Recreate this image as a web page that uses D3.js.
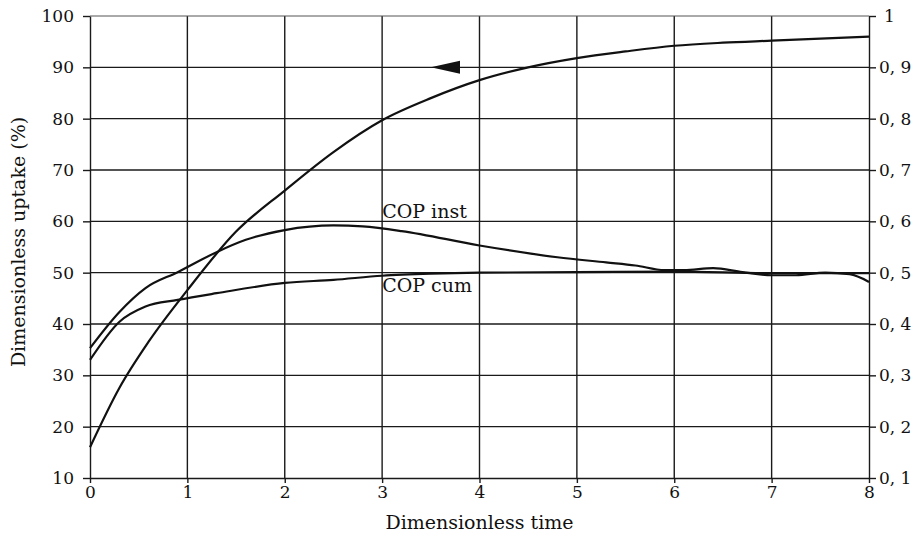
<!DOCTYPE html>
<html>
<head>
<meta charset="utf-8">
<script src="https://cdn.jsdelivr.net/npm/d3@7"></script>
<style>
  body { margin: 0; background: #fff; }
  svg text { font-family: "DejaVu Serif", "Liberation Serif", serif; fill: #111; }
</style>
</head>
<body>
<div id="chart"></div>
<script>
// Dimensionless time ticks and uptake / COP ticks
const timeTicks = [0, 1, 2, 3, 4, 5, 6, 7, 8];
const uptakeTicks = [10, 20, 30, 40, 50, 60, 70, 80, 90, 100];
const copTicks = [0.1, 0.2, 0.3, 0.4, 0.5, 0.6, 0.7, 0.8, 0.9, 1];

// Uptake curve (left axis, %)
const uptakeTime = [0, 0.3, 0.6, 1, 1.5, 2, 2.5, 3, 3.5, 4, 4.5, 5, 5.5, 6, 6.5, 7, 7.5, 8];
const uptakeValues = [16, 27.5, 36.5, 46.6, 58, 66, 73.5, 79.7, 84, 87.5, 90, 91.8, 93.1, 94.2, 94.8, 95.2, 95.6, 96];

// COP inst (right axis)
const copInstTime = [0, 0.3, 0.57, 0.9, 1.3, 1.6, 2, 2.5, 2.8, 3.2, 4, 4.8, 5.3, 5.6, 5.9, 6.1, 6.4, 6.7, 7, 7.25, 7.55, 7.8, 8];
const copInstValues = [0.353, 0.423, 0.47, 0.501, 0.54, 0.564, 0.583, 0.592, 0.59, 0.581, 0.553, 0.53, 0.52, 0.514, 0.505, 0.505, 0.509, 0.501, 0.495, 0.495, 0.50, 0.497, 0.482];

// COP cum (right axis)
const copCumTime = [0, 0.3, 0.57, 0.9, 1.3, 2, 2.5, 3, 3.5, 4, 5, 6, 7, 8];
const copCumValues = [0.33, 0.404, 0.434, 0.447, 0.46, 0.48, 0.486, 0.494, 0.498, 0.5, 0.501, 0.502, 0.499, 0.499];

const width = 924;
const height = 538;
const margin = { top: 16, right: 55, bottom: 60, left: 90 };

const svg = d3.select('#chart').append('svg')
    .attr('width', width)
    .attr('height', height);

const x = d3.scaleLinear().domain([0, 8]).range([margin.left, width - margin.right]);
const yLeft = d3.scaleLinear().domain([10, 100]).range([height - margin.bottom, margin.top]);
const yRight = d3.scaleLinear().domain([0.1, 1]).range([height - margin.bottom, margin.top]);

// Grid
svg.append('g').selectAll('line')
    .data(uptakeTicks.filter(d => d !== 100 && d !== 10))
    .enter().append('line')
    .attr('x1', x(0)).attr('x2', x(8))
    .attr('y1', d => yLeft(d)).attr('y2', d => yLeft(d))
    .attr('stroke', '#1a1a1a')
    .attr('stroke-width', 1.4);

svg.append('g').selectAll('line')
    .data(timeTicks.filter(d => d !== 0 && d !== 8))
    .enter().append('line')
    .attr('x1', d => x(d)).attr('x2', d => x(d))
    .attr('y1', yLeft(100)).attr('y2', yLeft(10))
    .attr('stroke', '#1a1a1a')
    .attr('stroke-width', 1.4);

// Top border (thin)
svg.append('line')
    .attr('x1', x(0)).attr('x2', x(8))
    .attr('y1', yLeft(100)).attr('y2', yLeft(100))
    .attr('stroke', '#555')
    .attr('stroke-width', 1);

// Axes
const xAxis = svg.append('g')
    .attr('transform', `translate(0, ${yLeft(10)})`)
    .call(d3.axisBottom(x).tickValues(timeTicks).tickSize(5).tickSizeOuter(0).tickPadding(3));

const leftAxis = svg.append('g')
    .attr('transform', `translate(${x(0)}, 0)`)
    .call(d3.axisLeft(yLeft).tickValues(uptakeTicks).tickSize(7).tickSizeOuter(0).tickPadding(9));

const rightAxis = svg.append('g')
    .attr('transform', `translate(${x(8)}, 0)`)
    .call(d3.axisRight(yRight).tickValues(copTicks).tickSize(7).tickSizeOuter(0).tickPadding(3)
        .tickFormat(d => d === 1 ? '1' : '0, ' + Math.round(d * 10)));

[xAxis, leftAxis, rightAxis].forEach(a => {
    a.select('.domain').attr('stroke', '#1a1a1a').attr('stroke-width', 1.4);
    a.selectAll('.tick line').attr('stroke', '#1a1a1a').attr('stroke-width', 1.4);
    a.selectAll('.tick text')
        .style('font-family', '"DejaVu Serif", serif')
        .style('font-size', '17px')
        .attr('fill', '#111');
});

rightAxis.selectAll('.tick text').filter(d => d === 1).attr('dx', 5);

// Curves
const line = d3.line()
    .x(d => x(d[0]))
    .curve(d3.curveMonotoneX);

svg.append('path')
    .datum(d3.zip(uptakeTime, uptakeValues))
    .attr('d', line.y(d => yLeft(d[1])))
    .attr('fill', 'none')
    .attr('stroke', '#111')
    .attr('stroke-width', 2.2);

svg.append('path')
    .datum(d3.zip(copInstTime, copInstValues))
    .attr('d', line.y(d => yRight(d[1])))
    .attr('fill', 'none')
    .attr('stroke', '#111')
    .attr('stroke-width', 2.2);

svg.append('path')
    .datum(d3.zip(copCumTime, copCumValues))
    .attr('d', line.y(d => yRight(d[1])))
    .attr('fill', 'none')
    .attr('stroke', '#111')
    .attr('stroke-width', 2.2);

// Arrow pointing to the left axis on the uptake curve
svg.append('path')
    .attr('d', `M${x(3.5)},${yLeft(90)} L${x(3.8)},${yLeft(90) - 6.5} L${x(3.8)},${yLeft(90) + 6.5} Z`)
    .attr('fill', '#111');

// Curve labels
svg.append('text')
    .attr('x', x(3)).attr('y', yRight(0.6) - 3)
    .style('font-size', '19px')
    .text('COP inst');

svg.append('text')
    .attr('x', x(3)).attr('y', yRight(0.5) + 19)
    .style('font-size', '19px')
    .text('COP cum');

// Axis titles
svg.append('text')
    .attr('x', (x(3) + x(5)) / 2)
    .attr('y', 529)
    .attr('text-anchor', 'middle')
    .style('font-size', '19px')
    .text('Dimensionless time');

svg.append('text')
    .attr('transform', `translate(25, 242) rotate(-90)`)
    .attr('text-anchor', 'middle')
    .style('font-size', '19px')
    .text('Dimensionless uptake (%)');
</script>
</body>
</html>
